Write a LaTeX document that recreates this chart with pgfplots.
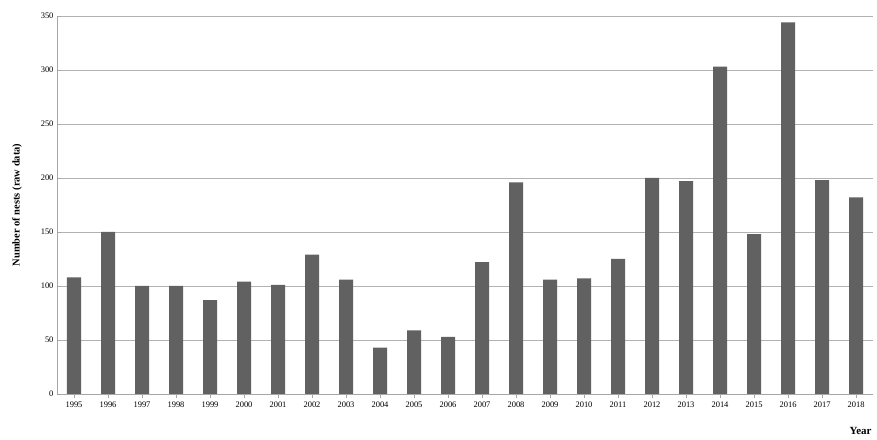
\documentclass[border=0pt]{standalone}
\usepackage{pgfplots}
\pgfplotsset{compat=1.18}
\usepackage{fontspec}
\setmainfont{Liberation Serif}
\begin{document}
\begin{tikzpicture}[x=1bp,y=1bp]
\path[use as bounding box] (-57,-46) rectangle (820,394);
\begin{axis}[
  at={(0,0)}, anchor=south west,
  x=34bp, y=1.08bp,
  ybar, bar width=14bp,
  xmin=-0.5, xmax=23.5, ymin=0, ymax=350,
  xtick=data,
  xticklabels={1995,1996,1997,1998,1999,2000,2001,2002,2003,2004,2005,2006,2007,2008,2009,2010,2011,2012,2013,2014,2015,2016,2017,2018},
  ytick={0,50,...,350},
  ymajorgrids, major grid style={gray!60},
  axis line style={gray!70},
  axis x line*=bottom, axis y line*=left,
  tick style={gray!70},
  tick label style={font=\fontsize{8.5}{10}\selectfont},
  /pgf/number format/assume math mode=true,
  ylabel={\textbf{Number of nests (raw data)}},
  ylabel style={font=\fontsize{10.5}{12}\selectfont, yshift=12bp},
  xlabel={\textbf{Year}},
  xlabel style={font=\fontsize{11}{12}\selectfont, at={(rel axis cs:1,0)}, anchor=north east, yshift=-30bp, xshift=2bp},
]
\addplot[fill=black!62, draw=none] coordinates {
(0,108)(1,150)(2,100)(3,100)(4,87)(5,104)(6,101)(7,129)(8,106)(9,43)(10,59)(11,53)
(12,122)(13,196)(14,106)(15,107)(16,125)(17,200)(18,197)(19,303)(20,148)(21,344)(22,198)(23,182)};
\end{axis}
\end{tikzpicture}
\end{document}
